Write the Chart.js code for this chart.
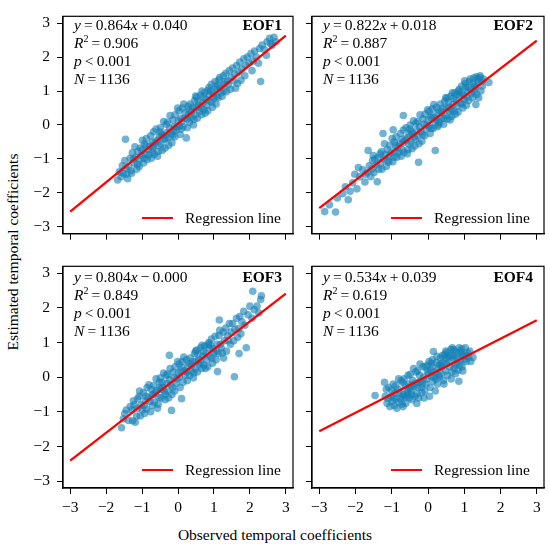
<!DOCTYPE html>
<html>
<head>
<meta charset="utf-8">
<script src="https://cdn.jsdelivr.net/npm/chart.js@4.4.1/dist/chart.umd.min.js"></script>
<style>
  body { margin: 0; background: #fff; }
  #wrap { position: relative; width: 550px; height: 549px; font-family: "Liberation Serif", "Times New Roman", serif; color: #000; }
  canvas { position: absolute; }
  .eq { position: absolute; font-size: 15.5px; line-height: 18px; white-space: nowrap; }
  .eq sup { font-size: 10px; vertical-align: 6px; line-height: 0; }
  .tag { position: absolute; font-size: 15.5px; font-weight: bold; line-height: 18px; }
  .leg-line { position: absolute; width: 31px; height: 2.4px; background: #ff0000; }
  .leg-text { position: absolute; font-size: 15.5px; line-height: 18px; white-space: nowrap; }
  .ytitle { position: absolute; left: 13px; top: 252px; transform: translate(-50%, -50%) rotate(-90deg); font-size: 15.5px; white-space: nowrap; }
  .xtitle { position: absolute; left: 275px; top: 535px; transform: translate(-50%, -50%); font-size: 15.5px; white-space: nowrap; }
</style>
</head>
<body>
<div id="wrap">
  <div class="ytitle">Estimated temporal coefficients</div>
  <div class="xtitle">Observed temporal coefficients</div>
</div>
<script>
'use strict';

// ===== DATA =====
const panelNames = ['EOF1', 'EOF2', 'EOF3', 'EOF4'];
const slopes = [0.864, 0.822, 0.804, 0.534];
const intercepts = [0.040, 0.018, -0.000, 0.039];
const rSquared = [0.906, 0.887, 0.849, 0.619];
const pText = '0.001';
const sampleSize = 1136;
const xTicks = [-3, -2, -1, 0, 1, 2, 3];
const yTicks = [-3, -2, -1, 0, 1, 2, 3];
const lineRange = [-3, 3];
const legendLabel = 'Regression line';

// [observed, estimated] — a sample of each cloud, placed by eye
const eof1Points = [
  [-1.68,-1.62],[-1.63,-1.38],[-1.58,-1.52],[-1.55,-1.2],[-1.52,-1.42],[-1.46,-0.42],
  [-1.48,-1.05],[-1.43,-1.45],[-1.37,-1.22],[-1.45,-1.28],[-1.33,-0.98],[-1.4,-1.58],[-1.31,-1.35],
  [-1.27,-0.82],[-1.15,-1.3],[-1.22,-1.12],[-1.12,-0.78],[-1.29,-1.42],[-1.18,-0.95],[-1.24,-1.0],
  [-1.13,-1.16],[-1.2,-0.64],
  [-1.08,-1.22],[-0.93,-0.55],[-1.02,-0.9],[-0.96,-1.12],[-1.05,-0.68],[-0.91,-0.86],[-0.99,-0.45],
  [-1.07,-1.02],[-0.94,-0.98],[-1.0,-0.74],
  [-0.88,-0.4],[-0.74,-0.98],[-0.83,-0.72],[-0.71,-0.5],[-0.86,-1.02],[-0.78,-0.62],[-0.72,-0.8],
  [-0.89,-0.62],[-0.76,-0.32],[-0.81,-0.88],[-0.7,-0.68],
  [-0.68,-0.2],[-0.55,-0.78],[-0.63,-0.52],[-0.52,-0.35],[-0.66,-0.86],[-0.58,-0.45],[-0.61,-0.12],
  [-0.53,-0.6],[-0.69,-0.62],[-0.57,-0.92],[-0.5,-0.2],
  [-0.47,-0.55],[-0.33,0.02],[-0.42,-0.3],[-0.36,-0.68],[-0.49,-0.08],[-0.38,-0.42],[-0.31,-0.22],
  [-0.44,-0.75],[-0.35,-0.4],[-0.46,-0.28],[-0.4,0.1],
  [-0.28,-0.38],[-0.14,0.15],[-0.23,-0.1],[-0.17,-0.52],[-0.29,0.08],[-0.2,-0.25],[-0.11,-0.05],
  [-0.26,-0.6],[-0.15,-0.3],[-0.22,0.28],[-0.12,-0.18],
  [-0.08,0.3],[0.06,-0.28],[-0.03,-0.05],[0.03,0.42],[-0.09,-0.35],[0.01,0.12],[0.08,0.2],
  [-0.05,-0.15],[0.04,-0.02],[-0.01,0.5],[0.09,-0.12],
  [0.12,0.5],[0.26,-0.08],[0.18,0.2],[0.23,-0.38],[0.14,-0.05],[0.28,0.55],[0.2,0.36],
  [0.11,0.1],[0.25,0.18],[0.16,0.62],[0.29,0.3],
  [0.32,0.08],[0.46,0.72],[0.38,0.4],[0.43,0.0],[0.34,0.62],[0.48,0.3],[0.41,0.52],
  [0.36,0.22],[0.49,0.85],[0.31,0.44],[0.44,0.16],
  [0.52,0.82],[0.66,0.3],[0.58,0.58],[0.63,0.88],[0.54,0.2],[0.69,0.65],[0.6,0.4],
  [0.51,0.52],[0.67,1.0],[0.56,0.7],[0.64,0.5],
  [0.72,0.45],[0.86,1.1],[0.78,0.75],[0.83,0.42],[0.74,0.95],[0.89,0.7],[0.8,0.58],
  [0.71,0.82],[0.87,0.9],[0.76,0.35],[0.84,1.02],
  [0.93,1.2],[1.06,0.62],[0.98,0.92],[1.03,1.28],[0.94,0.68],[1.09,1.05],[1.0,0.8],
  [0.91,1.0],[1.07,0.85],[0.96,0.52],[1.04,1.12],
  [1.12,0.8],[1.26,1.45],[1.18,1.1],[1.23,0.85],[1.14,1.32],[1.29,1.2],[1.2,0.95],
  [1.11,1.18],[1.27,1.0],[1.16,1.4],
  [1.33,1.52],[1.46,1.05],[1.38,1.3],[1.43,1.6],[1.35,0.98],[1.48,1.4],[1.4,1.18],[1.31,1.28],
  [1.52,1.68],[1.66,1.22],[1.58,1.5],[1.63,1.75],[1.55,1.3],[1.69,1.55],[1.6,1.08],
  [1.72,1.85],[1.86,1.45],[1.78,1.65],[1.83,1.95],[1.75,1.32],[1.89,1.75],
  [1.93,2.0],[2.06,1.6],[1.98,1.82],[2.03,2.1],[2.09,1.88],
  [2.13,2.18],[2.24,1.82],[2.18,2.0],[2.3,1.28],[2.27,2.25],
  [2.34,2.35],[2.46,2.05],[2.4,2.22],[2.48,2.45],
  [2.55,2.55],[2.62,2.35],[2.67,2.58],[2.72,2.45],[2.58,2.4]
];

const eof2Points = [
  [-2.85,-2.55],[-2.72,-2.35],[-2.55,-2.56],[-2.5,-2.15],[-2.35,-2.02],[-2.2,-2.2],[-2.28,-1.82],[-2.15,-1.95],
  [-2.08,-1.7],[-1.96,-1.88],[-1.88,-1.52],[-2.02,-1.45],[-1.8,-1.32],[-1.74,-1.68],[-1.92,-1.25],[-1.72,-1.45],
  [-1.65,-0.75],[-1.62,-1.2],[-1.58,-1.52],[-1.53,-1.05],[-1.67,-1.4],[-1.55,-1.3],[-1.51,-0.9],
  [-1.4,-1.67],[-1.47,-1.0],[-1.36,-1.3],[-1.43,-1.18],[-1.32,-0.85],[-1.49,-1.4],[-1.38,-0.95],[-1.31,-1.12],
  [-1.24,-0.25],[-1.28,-0.78],[-1.15,-1.22],[-1.22,-1.0],[-1.12,-0.72],[-1.27,-1.3],[-1.18,-0.88],
  [-1.11,-1.05],[-1.2,-0.55],
  [-0.96,-0.14],[-1.08,-1.1],[-0.93,-0.5],[-1.02,-0.82],[-0.97,-1.08],[-1.05,-0.6],[-0.91,-0.78],
  [-0.99,-0.4],[-1.06,-0.92],[-0.94,-0.95],
  [-0.88,-0.35],[-0.74,-0.92],[-0.83,-0.65],[-0.71,-0.42],[-0.86,-0.95],[-0.78,-0.55],[-0.72,-0.72],
  [-0.89,-0.6],[-0.76,-0.25],[-0.81,-0.82],
  [-0.68,0.28],[-0.68,-0.15],[-0.55,-0.72],[-0.63,-0.45],[-0.52,-0.28],[-0.66,-0.8],[-0.58,-0.38],
  [-0.61,-0.08],[-0.53,-0.55],[-0.69,-0.52],[-0.57,-0.85],[-0.5,-0.12],
  [-0.47,-0.5],[-0.33,0.05],[-0.42,-0.25],[-0.36,-0.62],[-0.49,0.0],[-0.38,-0.35],[-0.31,-0.15],
  [-0.44,-0.7],[-0.35,-0.42],[-0.46,-0.2],[-0.4,0.12],
  [-0.26,-1.1],[-0.28,-0.32],[-0.14,0.18],[-0.23,-0.05],[-0.17,-0.48],[-0.29,0.1],[-0.2,-0.2],
  [-0.11,0.02],[-0.25,-0.55],[-0.15,-0.28],[-0.22,0.3],
  [-0.08,0.32],[0.06,-0.25],[-0.03,0.0],[0.03,0.4],[-0.09,-0.32],[0.01,0.15],[0.08,0.22],
  [-0.05,-0.12],[0.04,-0.05],[-0.01,0.45],[0.09,-0.1],
  [0.12,0.48],[0.26,-0.05],[0.2,-0.75],[0.18,0.22],[0.23,0.52],[0.14,-0.1],[0.28,0.35],
  [0.2,0.08],[0.11,0.28],[0.25,0.15],[0.16,0.6],[0.29,0.0],
  [0.32,0.08],[0.46,0.7],[0.38,0.38],[0.43,0.02],[0.34,0.62],[0.48,0.28],[0.41,0.5],
  [0.36,0.18],[0.49,0.8],[0.31,0.42],[0.44,0.2],
  [0.52,0.8],[0.66,0.25],[0.58,0.52],[0.63,0.85],[0.54,0.18],[0.69,0.6],[0.6,0.38],
  [0.51,0.5],[0.67,0.95],[0.56,0.68],[0.64,0.45],[0.61,0.15],
  [0.72,0.4],[0.86,1.05],[0.78,0.72],[0.83,0.38],[0.74,0.95],[0.89,0.65],[0.8,0.55],
  [0.71,0.78],[0.87,0.88],[0.76,0.32],[0.84,1.0],[0.79,0.9],
  [0.93,1.15],[1.06,0.58],[0.98,0.88],[1.03,1.22],[0.94,0.62],[1.09,1.0],[1.0,0.75],
  [0.91,0.95],[1.07,0.82],[0.96,0.5],[1.04,1.1],[1.01,1.3],
  [1.12,0.72],[1.26,1.38],[1.18,1.05],[1.23,0.8],[1.14,1.28],[1.29,1.15],[1.2,0.92],
  [1.11,1.12],[1.27,0.98],[1.16,1.35],[1.25,1.22],
  [1.32,0.6],[1.33,1.42],[1.46,1.0],[1.38,1.25],[1.43,1.4],[1.35,0.9],[1.48,1.28],
  [1.4,0.8],[1.31,1.1],[1.5,1.15],[1.44,1.45],[1.53,1.35],[1.37,1.35],
  [1.68,1.25]
];

const eof3Points = [
  [-1.57,-1.46],[-1.52,-1.2],[-1.44,-0.95],[-1.38,-1.25],[-1.33,-0.85],[-1.48,-1.05],
  [-1.26,-1.26],[-1.22,-0.8],[-1.15,-1.12],[-1.28,-0.95],[-1.12,-0.62],[-1.19,-1.3],[-1.24,-0.68],[-1.13,-0.9],
  [-1.08,-0.55],[-0.93,-1.05],[-1.02,-0.8],[-0.96,-0.45],[-1.05,-1.12],[-0.91,-0.68],[-0.99,-0.95],
  [-1.07,-0.4],[-0.94,-0.82],
  [-0.88,-0.92],[-0.74,-0.35],[-0.83,-0.6],[-0.71,-0.82],[-0.86,-0.3],[-0.78,-0.7],[-0.72,-0.5],
  [-0.89,-0.55],[-0.76,-1.0],[-0.81,-0.22],
  [-0.68,-0.25],[-0.55,-0.78],[-0.63,-0.45],[-0.52,-0.15],[-0.66,-0.72],[-0.58,-0.38],[-0.61,-0.05],
  [-0.53,-0.58],[-0.69,-0.5],[-0.57,-0.9],[-0.5,-0.3],
  [-0.47,-0.6],[-0.33,0.05],[-0.42,-0.3],[-0.36,-0.65],[-0.49,-0.02],[-0.38,-0.42],[-0.31,-0.18],
  [-0.44,-0.15],[-0.35,-0.5],[-0.46,-0.35],[-0.4,0.12],
  [-0.24,0.63],[-0.28,-0.4],[-0.14,0.15],[-0.23,-0.08],[-0.18,-0.96],[-0.17,-0.5],[-0.29,0.08],
  [-0.2,-0.22],[-0.11,-0.02],[-0.26,-0.6],[-0.15,-0.3],[-0.22,0.25],
  [-0.08,0.3],[0.06,-0.3],[-0.03,-0.05],[0.03,0.38],[-0.09,-0.4],[0.01,0.12],[0.1,-0.62],
  [0.08,0.18],[-0.05,-0.18],[0.04,0.0],[-0.01,0.45],
  [0.12,0.45],[0.26,-0.1],[0.18,0.18],[0.23,0.5],[0.14,-0.15],[0.28,0.3],[0.2,0.05],
  [0.11,0.28],[0.25,0.15],[0.16,0.58],
  [0.32,0.05],[0.46,0.68],[0.38,0.35],[0.43,-0.02],[0.34,0.55],[0.48,0.25],[0.41,0.45],
  [0.36,0.18],[0.49,0.75],[0.31,0.4],[0.44,0.12],
  [0.52,0.78],[0.66,0.25],[0.58,0.5],[0.63,0.85],[0.54,0.15],[0.69,0.6],[0.6,0.35],
  [0.51,0.45],[0.67,0.92],[0.56,0.65],[0.64,0.42],
  [0.72,0.35],[0.86,1.0],[0.78,0.68],[0.83,0.3],[0.74,0.9],[0.89,0.6],[0.8,0.5],
  [0.71,0.75],[0.87,0.85],[0.76,0.25],[0.84,0.95],
  [0.93,1.1],[1.06,0.5],[0.98,0.82],[1.03,1.18],[0.94,0.55],[1.09,0.95],[1.0,0.7],
  [0.91,0.92],[1.07,0.75],[0.96,0.4],[1.1,0.16],
  [1.12,0.68],[1.26,1.3],[1.18,0.95],[1.23,0.7],[1.15,1.65],[1.14,1.2],[1.29,1.05],
  [1.2,0.85],[1.27,0.55],[1.16,1.35],
  [1.33,1.42],[1.46,0.95],[1.38,1.2],[1.43,1.55],[1.35,0.75],[1.48,1.3],[1.4,1.05],
  [1.57,0.01],[1.52,1.55],[1.66,1.15],[1.58,1.38],[1.63,1.7],[1.55,1.05],[1.7,0.68],[1.69,1.4],
  [1.72,1.75],[1.86,1.5],[1.78,1.6],[1.83,1.9],[1.75,1.25],[1.9,0.85],
  [1.95,1.8],[2.0,2.05],[2.06,1.7],[2.08,2.48],[2.12,1.95],[2.2,2.05],[2.3,2.24],[2.32,2.35],[2.25,1.85]
];

const eof4Points = [
  [-1.46,-0.53],[-1.2,-0.15],[-1.18,-0.55],[-1.13,-0.75],[-1.15,-0.35],[-1.1,-0.62],
  [-1.08,-0.3],[-0.93,-0.82],[-1.02,-0.55],[-0.96,-0.2],[-1.05,-0.85],[-0.91,-0.45],[-0.99,-0.7],[-1.0,-0.38],
  [-0.88,-0.62],[-0.74,-0.1],[-0.83,-0.35],[-0.71,-0.55],[-0.86,-0.9],[-0.78,-0.45],[-0.72,-0.78],
  [-0.89,-0.25],[-0.76,-0.62],[-0.81,-0.05],
  [-0.68,-0.5],[-0.55,0.05],[-0.63,-0.25],[-0.52,-0.6],[-0.66,-0.05],[-0.58,-0.38],[-0.61,-0.75],
  [-0.53,-0.2],[-0.69,-0.85],[-0.57,-0.52],[-0.5,-0.3],
  [-0.47,-0.4],[-0.33,0.15],[-0.42,-0.1],[-0.36,-0.55],[-0.49,0.08],[-0.38,-0.28],[-0.31,-0.76],
  [-0.44,-0.65],[-0.35,-0.18],[-0.46,-0.5],[-0.4,0.25],
  [-0.28,-0.3],[-0.14,0.3],[-0.23,0.05],[-0.17,-0.45],[-0.29,0.18],[-0.2,-0.12],[-0.11,-0.6],
  [-0.26,-0.6],[-0.15,-0.2],[-0.22,0.38],[-0.12,0.0],
  [-0.08,0.3],[0.06,-0.3],[-0.03,-0.05],[0.03,0.45],[-0.09,-0.4],[0.01,0.12],[0.08,0.2],
  [-0.05,-0.2],[0.04,-0.55],[-0.01,0.35],[0.09,0.02],
  [0.12,0.5],[0.26,-0.2],[0.15,0.74],[0.18,0.15],[0.23,0.42],[0.14,-0.12],[0.28,0.25],
  [0.2,-0.4],[0.11,0.3],[0.25,0.6],[0.16,0.0],[0.29,0.05],
  [0.32,0.0],[0.46,0.65],[0.38,0.3],[0.43,-0.1],[0.34,0.55],[0.48,0.18],[0.41,0.42],
  [0.36,0.1],[0.49,0.75],[0.31,0.35],[0.44,-0.2],
  [0.52,0.72],[0.66,0.15],[0.58,0.45],[0.63,0.8],[0.54,0.05],[0.69,0.55],[0.6,0.3],
  [0.51,0.4],[0.67,0.85],[0.56,0.6],[0.64,-0.05],
  [0.72,0.25],[0.86,0.85],[0.78,0.55],[0.83,0.2],[0.74,0.75],[0.89,0.5],[0.8,0.4],
  [0.71,0.62],[0.85,-0.12],[0.76,0.1],[0.84,0.7],[0.88,0.35],
  [0.93,0.82],[1.06,0.45],[0.98,0.62],[1.03,0.85],[0.94,0.3],[1.09,0.7],[1.0,0.5],
  [0.91,0.68],[1.12,0.58],[0.96,0.18],[1.15,0.75],[1.24,0.57],[1.18,0.45],
  [-0.95,-0.6],[-0.8,-0.72],[-0.62,-0.58],[-0.45,-0.25],[-0.3,-0.48],[-0.18,-0.3],[-0.02,0.18],
  [0.1,0.4],[0.22,-0.05],[0.35,0.38],[0.5,0.55],[0.62,0.62],[0.75,0.35],[0.9,0.75],[1.05,0.62],
  [-0.7,-0.15],[-0.25,-0.15],[0.4,0.62],[0.7,0.8],[-0.55,-0.42]
];

const allPoints = [eof1Points, eof2Points, eof3Points, eof4Points];

// ===== LAYOUT =====
const boxes = [
  { left: 63,  top: 5,   right: 293, bottom: 238 },
  { left: 312, top: 5,   right: 544, bottom: 238 },
  { left: 63,  top: 257, right: 293, bottom: 488 },
  { left: 312, top: 257, right: 544, bottom: 488 }
];
const canvases = [
  { x: 0,   y: 0,   w: 300, h: 250 },
  { x: 300, y: 0,   w: 250, h: 250 },
  { x: 0,   y: 250, w: 300, h: 275 },
  { x: 300, y: 250, w: 250, h: 275 }
];
const axisRange = { min: -3.2, max: 3.2 };

const FONT = '"Liberation Serif", "Times New Roman", serif';
const minusFmt = v => (v < 0 ? '\u2212' + Math.abs(v) : String(v));

const boxPlugin = {
  id: 'frameBox',
  afterDatasetsDraw(chart) {
    const { ctx, chartArea: a } = chart;
    ctx.save();
    ctx.strokeStyle = '#000';
    ctx.lineWidth = 1.2;
    ctx.strokeRect(a.left, a.top, a.right - a.left, a.bottom - a.top);
    ctx.restore();
  }
};

function fmtNum(v) {
  return v.toFixed(3);
}

function eqHtml(i) {
  const b = intercepts[i];
  const sign = (b < 0 || Object.is(b, -0)) ? '\u2212' : '+';
  return `<i>y</i>\u2009=\u2009${fmtNum(slopes[i])}<i>x</i>\u2009${sign}\u2009${fmtNum(Math.abs(b))}<br>` +
         `<i>R</i><sup>2</sup>\u2009=\u2009${fmtNum(rSquared[i])}<br>` +
         `<i>p</i>\u2009&lt;\u2009${pText}<br>` +
         `<i>N</i>\u2009=\u2009${sampleSize}`;
}

function addText(i) {
  const wrap = document.getElementById('wrap');
  const b = boxes[i];

  const eq = document.createElement('div');
  eq.className = 'eq';
  eq.style.left = (b.left + 11) + 'px';
  eq.style.top = (b.top + 11) + 'px';
  eq.innerHTML = eqHtml(i);
  wrap.appendChild(eq);

  const tag = document.createElement('div');
  tag.className = 'tag';
  tag.style.right = (550 - (b.right - 11)) + 'px';
  tag.style.top = (b.top + 11) + 'px';
  tag.textContent = panelNames[i];
  wrap.appendChild(tag);

  const ll = document.createElement('div');
  ll.className = 'leg-line';
  ll.style.left = (b.left + 79) + 'px';
  ll.style.top = (b.top + 212) + 'px';
  wrap.appendChild(ll);

  const lt = document.createElement('div');
  lt.className = 'leg-text';
  lt.style.left = (b.left + 122) + 'px';
  lt.style.top = (b.top + 204) + 'px';
  lt.textContent = legendLabel;
  wrap.appendChild(lt);
}

function makePanel(i) {
  const c = canvases[i];
  const b = boxes[i];
  const showX = i >= 2;
  const showY = i % 2 === 0;

  const cv = document.createElement('canvas');
  cv.width = c.w;
  cv.height = c.h;
  cv.style.left = c.x + 'px';
  cv.style.top = c.y + 'px';
  document.getElementById('wrap').appendChild(cv);

  const yW = b.left - c.x;
  const xH = (c.y + c.h) - b.bottom;

  const axisCommon = {
    type: 'linear',
    min: axisRange.min,
    max: axisRange.max,
    border: { display: true, color: '#000', width: 1.2 },
    grid: { drawOnChartArea: false, drawTicks: true, tickLength: 6, tickWidth: 1, tickColor: '#000' }
  };

  new Chart(cv, {
    data: {
      datasets: [
        {
          type: 'line',
          label: legendLabel,
          data: lineRange.map(x => ({ x, y: slopes[i] * x + intercepts[i] })),
          borderColor: '#ff0000',
          borderWidth: 2.3,
          pointRadius: 0,
          order: 0
        },
        {
          type: 'scatter',
          label: panelNames[i],
          data: allPoints[i].map(p => ({ x: p[0], y: p[1] })),
          backgroundColor: 'rgba(20,128,182,0.6)',
          borderWidth: 0,
          pointRadius: 3.8,
          order: 1
        }
      ]
    },
    options: {
      responsive: false,
      animation: false,
      devicePixelRatio: 1,
      layout: {
        padding: { top: b.top - c.y, right: (c.x + c.w) - b.right, left: 0, bottom: 0 }
      },
      plugins: { legend: { display: false }, tooltip: { enabled: false } },
      scales: {
        x: Object.assign({}, axisCommon, {
          afterBuildTicks: s => { s.ticks = xTicks.map(v => ({ value: v })); },
          afterFit: s => { s.height = xH; },
          ticks: {
            color: '#000', padding: 5, maxRotation: 0,
            font: { family: FONT, size: 15.5 },
            callback: v => (showX ? minusFmt(v) : '')
          }
        }),
        y: Object.assign({}, axisCommon, {
          afterBuildTicks: s => { s.ticks = yTicks.map(v => ({ value: v })); },
          afterFit: s => { s.width = yW; },
          ticks: {
            color: '#000', padding: 7,
            font: { family: FONT, size: 15.5 },
            callback: v => (showY ? minusFmt(v) : '')
          }
        })
      }
    },
    plugins: [boxPlugin]
  });

  addText(i);
}

document.addEventListener('DOMContentLoaded', () => {
  for (let i = 0; i < 4; i++) makePanel(i);
});
</script>
</body>
</html>
